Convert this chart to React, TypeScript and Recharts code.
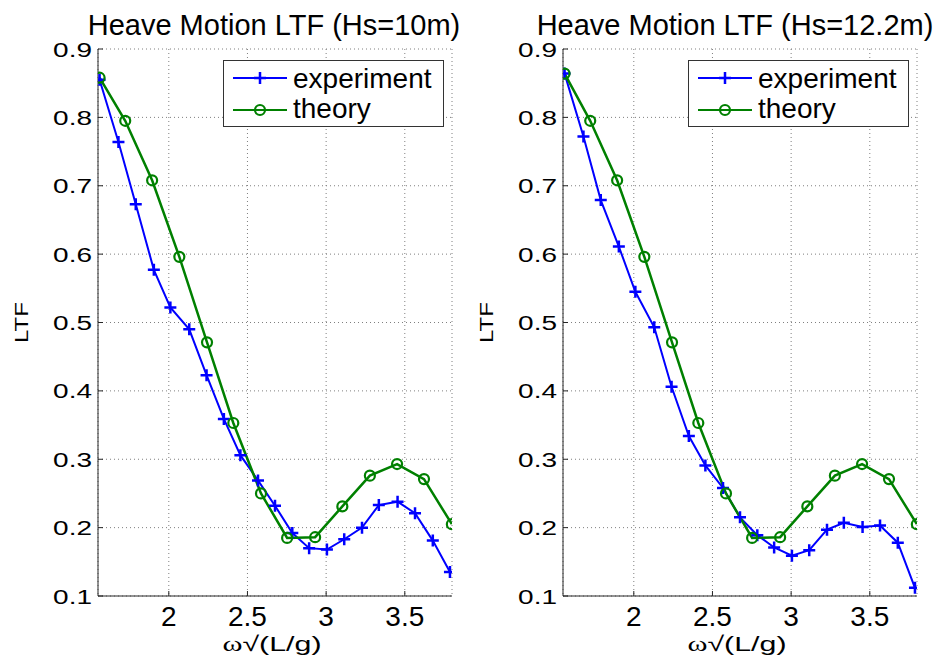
import React from 'react';
import { LineChart, Line, XAxis, YAxis, CartesianGrid, Legend, Label } from 'recharts';

// ω√(L/g) sample points of the experiment series
const omegaExp = [1.56, 1.68, 1.79, 1.905, 2.01, 2.13, 2.24, 2.35, 2.455, 2.567, 2.675, 2.785, 2.892, 3.005, 3.115, 3.228, 3.335, 3.454, 3.565, 3.678, 3.787];
// LTF values, experiment, Hs=10m
const expHs10 = [0.855, 0.764, 0.673, 0.577, 0.522, 0.49, 0.423, 0.359, 0.306, 0.269, 0.232, 0.192, 0.17, 0.168, 0.183, 0.2, 0.233, 0.238, 0.221, 0.181, 0.135];
// LTF values, experiment, Hs=12.2m
const expHs122 = [0.864, 0.772, 0.679, 0.611, 0.545, 0.493, 0.406, 0.334, 0.291, 0.258, 0.215, 0.189, 0.171, 0.159, 0.167, 0.197, 0.207, 0.201, 0.203, 0.178, 0.112];
// ω√(L/g) sample points of the theory series
const omegaTheory = [1.56, 1.723, 1.894, 2.067, 2.243, 2.41, 2.586, 2.752, 2.93, 3.103, 3.278, 3.451, 3.622, 3.799];
// LTF values, theory
const theoryHs10 = [0.858, 0.795, 0.708, 0.596, 0.471, 0.353, 0.25, 0.185, 0.186, 0.231, 0.276, 0.293, 0.271, 0.205];
const theoryHs122 = [0.864, 0.795, 0.708, 0.596, 0.471, 0.353, 0.25, 0.185, 0.186, 0.231, 0.276, 0.293, 0.271, 0.205];

const xTicks = [2, 2.5, 3, 3.5];
const yTicks = [0.1, 0.2, 0.3, 0.4, 0.5, 0.6, 0.7, 0.8, 0.9];
const xDomain = [1.55, 3.8];
const yDomain = [0.1, 0.9];
const titles = ['Heave Motion LTF (Hs=10m)', 'Heave Motion LTF (Hs=12.2m)'];
const seriesNames = ['experiment', 'theory'];
const yLabelText = 'LTF';

const BLUE = '#0000ff';
const GREEN = '#008000';
const AXIS = '#262626';
const FONT = '"Liberation Sans", Arial, Helvetica, sans-serif';

const toPoints = (xs: number[], ys: number[]) => xs.map((x, i) => ({ x, y: ys[i] }));

const PlusDot = (props: any) => {
  const { cx, cy } = props;
  if (cx == null || cy == null) return <g />;
  return (
    <path d={`M${cx - 6},${cy}H${cx + 6}M${cx},${cy - 6}V${cy + 6}`} stroke={BLUE} strokeWidth={2.5} fill="none" />
  );
};

const CircleDot = (props: any) => {
  const { cx, cy } = props;
  if (cx == null || cy == null) return <g />;
  return <circle cx={cx} cy={cy} r={5} stroke={GREEN} strokeWidth={2.2} fill="none" />;
};

const XTick = (props: any) => {
  const { x, y, payload } = props;
  return (
    <text x={x} y={y + 30} textAnchor="middle" fontSize={28} fontFamily={FONT} fill="#000">
      {String(payload.value)}
    </text>
  );
};

const YTick = (props: any) => {
  const { x, y, payload } = props;
  return (
    <g transform={`translate(${x - 6},${y + 7.5}) scale(1,0.72)`}>
      <text x={0} y={0} textAnchor="end" fontSize={28} fontFamily={FONT} fill="#000">
        {Number(payload.value).toFixed(1)}
      </text>
    </g>
  );
};

const EmptyTick = () => <g />;

const XLabel = (props: any) => {
  const vb = props.viewBox || {};
  const cx = vb.x + vb.width / 2 - 3;
  const by = vb.y + 55;
  return (
    <text x={cx} y={by} textAnchor="middle" fontSize={21} fontFamily={FONT} fill="#000" textLength={99} lengthAdjust="spacingAndGlyphs">
      <tspan fontFamily='"Liberation Serif", "Times New Roman", serif'>ω</tspan>
      <tspan>√(L/g)</tspan>
    </text>
  );
};

const YLabel = (props: any) => {
  const vb = props.viewBox || {};
  const cx = vb.x + vb.width - 76.5;
  const cy = vb.y + vb.height / 2;
  return (
    <g transform={`translate(${cx},${cy}) rotate(-90) scale(1,0.75)`}>
      <text x={0} y={8.6} textAnchor="middle" fontSize={24} fontFamily={FONT} fill="#000">
        {yLabelText}
      </text>
    </g>
  );
};

const LegendBox = () => (
  <svg width={221} height={67} style={{ display: 'block' }}>
    <rect x={0.5} y={0.5} width={220} height={66} fill="#fff" stroke="#333" strokeWidth={1} />
    <line x1={10} y1={18} x2={64} y2={18} stroke={BLUE} strokeWidth={2} />
    <path d="M31,18H43M37,12V24" stroke={BLUE} strokeWidth={2.5} fill="none" />
    <text x={70} y={28} fontSize={28} fontFamily={FONT} fill="#000">{seriesNames[0]}</text>
    <line x1={10} y1={50} x2={64} y2={50} stroke={GREEN} strokeWidth={2.2} />
    <circle cx={37} cy={50} r={5} stroke={GREEN} strokeWidth={2.2} fill="none" />
    <text x={70} y={58} fontSize={28} fontFamily={FONT} fill="#000">{seriesNames[1]}</text>
  </svg>
);

type PanelProps = {
  left: number;
  width: number;
  yAxisWidth: number;
  marginRight: number;
  exp: number[];
  theory: number[];
};

function Panel({ left, width, yAxisWidth, marginRight, exp, theory }: PanelProps) {
  const expData = toPoints(omegaExp, exp);
  const thData = toPoints(omegaTheory, theory);
  return (
    <div style={{ position: 'absolute', left, top: 0, width, height: 660 }}>
      <LineChart width={width} height={660} margin={{ top: 49, right: marginRight, bottom: 0, left: 0 }}>
        <CartesianGrid stroke="#7f7f7f" strokeDasharray="1 3" strokeWidth={1} />
        <XAxis
          xAxisId={0}
          dataKey="x"
          type="number"
          domain={xDomain}
          allowDataOverflow
          ticks={xTicks}
          interval={0}
          tickSize={-5}
          tickMargin={5}
          height={64}
          stroke={AXIS}
          tick={<XTick />}
        >
          <Label content={<XLabel />} />
        </XAxis>
        <XAxis
          xAxisId="top"
          orientation="top"
          dataKey="x"
          type="number"
          domain={xDomain}
          allowDataOverflow
          ticks={xTicks}
          interval={0}
          tickSize={-5}
          height={0}
          stroke={AXIS}
          tick={<EmptyTick />}
        />
        <YAxis
          yAxisId={0}
          type="number"
          domain={yDomain}
          allowDataOverflow
          ticks={yTicks}
          interval={0}
          tickSize={-5}
          tickMargin={5}
          width={yAxisWidth}
          stroke={AXIS}
          tick={<YTick />}
        >
          <Label content={<YLabel />} />
        </YAxis>
        <YAxis
          yAxisId="right"
          orientation="right"
          type="number"
          domain={yDomain}
          allowDataOverflow
          ticks={yTicks}
          interval={0}
          tickSize={-5}
          width={0}
          stroke={AXIS}
          tick={<EmptyTick />}
        />
        <Line
          data={expData}
          dataKey="y"
          name={seriesNames[0]}
          type="linear"
          stroke={BLUE}
          strokeWidth={2}
          dot={<PlusDot />}
          activeDot={false}
          isAnimationActive={false}
        />
        <Line
          data={thData}
          dataKey="y"
          name={seriesNames[1]}
          type="linear"
          stroke={GREEN}
          strokeWidth={2.5}
          dot={<CircleDot />}
          activeDot={false}
          isAnimationActive={false}
        />
        <Legend
          layout="horizontal"
          verticalAlign="middle"
          align="center"
          content={<LegendBox />}
          wrapperStyle={{ position: 'absolute', left: yAxisWidth + 125, top: 60, width: 221, height: 67 }}
        />
      </LineChart>
    </div>
  );
}

export default function App() {
  return (
    <div style={{ position: 'absolute', left: 0, top: 0, width: 945, height: 660, background: '#fff', fontFamily: FONT }}>
      <Panel left={0} width={472} yAxisWidth={98} marginRight={20} exp={expHs10} theory={theoryHs10} />
      <Panel left={472} width={473} yAxisWidth={91} marginRight={28} exp={expHs122} theory={theoryHs122} />
      <svg width={945} height={45} style={{ position: 'absolute', left: 0, top: 0 }}>
        <text x={274} y={35} textAnchor="middle" fontSize={29} fontFamily={FONT} fill="#000">{titles[0]}</text>
        <text x={735} y={35} textAnchor="middle" fontSize={29} fontFamily={FONT} fill="#000">{titles[1]}</text>
      </svg>
    </div>
  );
}
